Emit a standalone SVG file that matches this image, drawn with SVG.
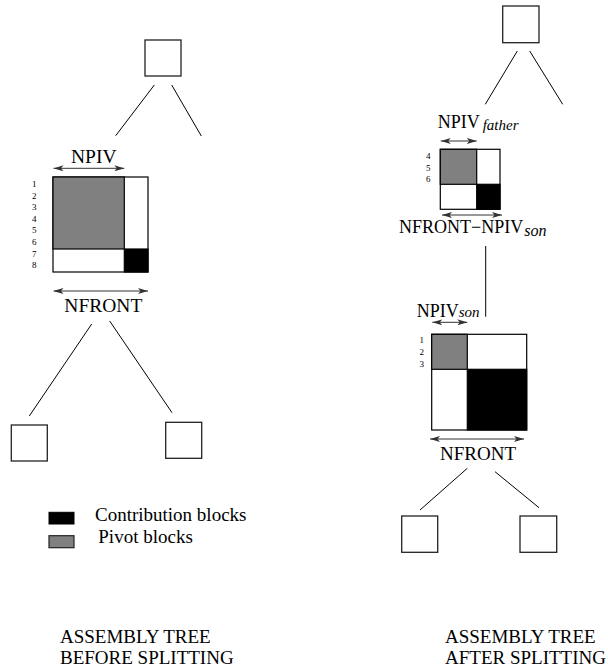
<svg xmlns="http://www.w3.org/2000/svg" width="608" height="670" viewBox="0 0 608 670" font-family="'Liberation Serif', 'DejaVu Serif', serif">
<style>
  text { font-family: "Liberation Serif", "DejaVu Serif", serif; fill: #000; }
  .lbl { font-size: 19.5px; }
  .lbr { font-size: 18px; }
  .sub { font-size: 15px; font-style: italic; }
  .num { font-size: 9px; text-anchor: middle; }
  .big { font-size: 19px; }
  .node { fill: #fff; stroke: #222; stroke-width: 1.3; }
  .edge { stroke: #000; stroke-width: 1; fill: none; }
  .dim { stroke: #333; stroke-width: 1; fill: none; marker-start: url(#ah); marker-end: url(#ah); }
  .blk { stroke: #000; stroke-width: 1.2; }
  .piv { fill: #808080; }
  .cb { fill: #000; }
  .wh { fill: #fff; }
</style>
<defs>
  <marker id="ah" viewBox="0 0 10 6" refX="10" refY="3" markerWidth="10" markerHeight="6" markerUnits="userSpaceOnUse" orient="auto-start-reverse">
    <path d="M0,0 L10,3 L0,6 L2.5,3 Z" fill="#333"/>
  </marker>
</defs>

<g id="connectors">
  <line class="edge" x1="154.3" y1="85" x2="115.7" y2="135.7"/>
  <line class="edge" x1="171.7" y1="85" x2="201.3" y2="136"/>
  <line class="edge" x1="91.7" y1="324" x2="29.3" y2="416"/>
  <line class="edge" x1="109.7" y1="321" x2="172" y2="412.7"/>
  <line class="edge" x1="517.3" y1="51" x2="485.3" y2="104.3"/>
  <line class="edge" x1="529.7" y1="51" x2="562.7" y2="104.3"/>
  <line class="edge" x1="485.7" y1="246" x2="485.7" y2="316.7"/>
  <line class="edge" x1="467.3" y1="468.3" x2="420" y2="510"/>
  <line class="edge" x1="495" y1="471.7" x2="539" y2="507.7"/>
</g>

<!-- Left tree -->
<g id="left-root"><rect class="node" x="145" y="40" width="36" height="36"/></g>

<g id="left-front">
  <text class="lbl" x="71" y="162.7">NPIV</text>
  <line class="dim" x1="53.5" y1="168.3" x2="124.3" y2="168.3"/>
  <rect class="wh blk" x="53" y="177" width="95" height="95"/>
  <rect class="piv blk" x="53" y="177" width="71.3" height="72"/>
  <rect class="cb blk" x="124.3" y="249" width="23.7" height="23"/>
  <text class="num" x="34.3" y="187">1</text>
  <text class="num" x="34.3" y="198.6">2</text>
  <text class="num" x="34.3" y="210.2">3</text>
  <text class="num" x="34.3" y="221.8">4</text>
  <text class="num" x="34.3" y="233.4">5</text>
  <text class="num" x="34.3" y="245">6</text>
  <text class="num" x="34.3" y="256.6">7</text>
  <text class="num" x="34.3" y="268.2">8</text>
  <line class="dim" x1="53.5" y1="291" x2="148" y2="291"/>
  <text class="lbl" x="64.3" y="312.3">NFRONT</text>
</g>

<g id="left-child-1"><rect class="node" x="11.3" y="425" width="36" height="36"/></g>
<g id="left-child-2"><rect class="node" x="165.7" y="422.3" width="36" height="36"/></g>

<!-- Legend -->
<g id="legend">
  <rect x="49" y="512.3" width="25" height="11.7" fill="#000" stroke="#000" stroke-width="1"/>
  <text class="big" x="95" y="520.7">Contribution blocks</text>
  <rect x="49" y="535.7" width="25" height="12" fill="#808080" stroke="#222" stroke-width="1.2"/>
  <text class="big" x="98.3" y="543.3">Pivot blocks</text>
</g>

<g id="caption-left">
  <text class="big" x="60" y="643.3">ASSEMBLY TREE</text>
  <text class="big" x="60" y="664">BEFORE SPLITTING</text>
</g>

<!-- Right tree -->
<g id="right-root"><rect class="node" x="502.7" y="6" width="36.3" height="36.7"/></g>

<g id="right-father">
  <text class="lbr" x="437.7" y="128.3">NPIV<tspan class="sub" dx="3" dy="1.5">father</tspan></text>
  <line class="dim" x1="440.7" y1="141" x2="476.7" y2="141"/>
  <rect class="wh blk" x="440.3" y="149.3" width="59.7" height="60"/>
  <rect class="piv blk" x="440.3" y="149.3" width="36.4" height="35"/>
  <rect class="cb blk" x="476.7" y="184.3" width="23.3" height="25"/>
  <text class="num" x="428.3" y="159">4</text>
  <text class="num" x="428.3" y="171">5</text>
  <text class="num" x="428.3" y="182">6</text>
  <line class="dim" x1="442" y1="215" x2="502" y2="215"/>
  <text class="lbr" x="399" y="233.3">NFRONT−NPIV<tspan class="sub" dx="1" dy="3" style="font-size:16px">son</tspan></text>
</g>

<g id="right-son">
  <text class="lbr" x="416.7" y="316.7">NPIV<tspan class="sub" dy="0.5">son</tspan></text>
  <line class="dim" x1="432.3" y1="322.3" x2="467.3" y2="322.3"/>
  <rect class="wh blk" x="431.7" y="334.3" width="95" height="95.7"/>
  <rect class="piv blk" x="431.7" y="334.3" width="35.6" height="35"/>
  <rect class="cb blk" x="467.3" y="369.3" width="59.4" height="60.7"/>
  <text class="num" x="421.7" y="343">1</text>
  <text class="num" x="421.7" y="355">2</text>
  <text class="num" x="421.7" y="367">3</text>
  <line class="dim" x1="430" y1="439" x2="524" y2="439"/>
  <text class="big" x="440" y="460">NFRONT</text>
</g>

<g id="right-child-1"><rect class="node" x="401.7" y="516" width="36" height="36.3"/></g>
<g id="right-child-2"><rect class="node" x="520" y="516" width="36.7" height="36.3"/></g>

<g id="caption-right">
  <text class="big" x="445" y="643.3">ASSEMBLY TREE</text>
  <text class="big" x="445" y="664">AFTER SPLITTING</text>
</g>
</svg>
